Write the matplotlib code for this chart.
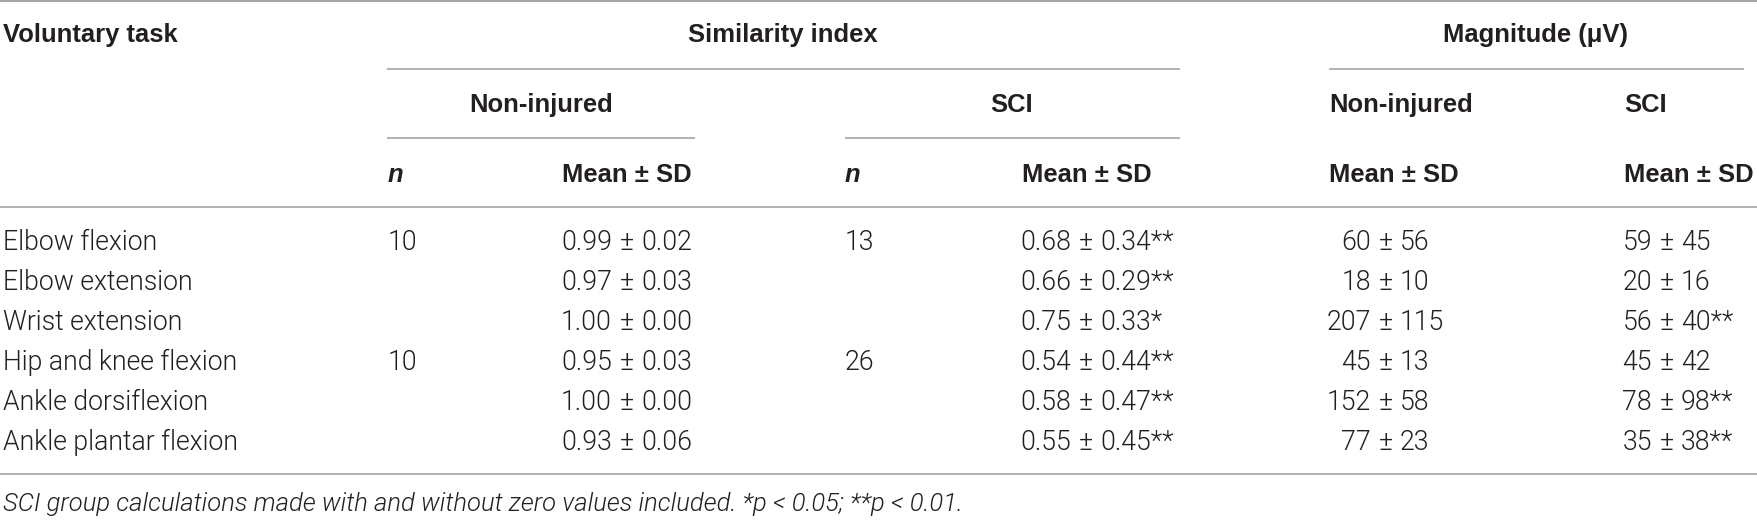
import matplotlib
matplotlib.use("Agg")
import matplotlib.pyplot as plt
from matplotlib import font_manager as fm

# ---------------- data ----------------
tasks = ["Elbow flexion", "Elbow extension", "Wrist extension",
         "Hip and knee flexion", "Ankle dorsiflexion", "Ankle plantar flexion"]
ni_n = ["10", "", "", "10", "", ""]
ni_sim_mean = ["0.99", "0.97", "1.00", "0.95", "1.00", "0.93"]
ni_sim_sd = ["0.02", "0.03", "0.00", "0.03", "0.00", "0.06"]
sci_n = ["13", "", "", "26", "", ""]
sci_sim_mean = ["0.68", "0.66", "0.75", "0.54", "0.58", "0.55"]
sci_sim_sd = ["0.34", "0.29", "0.33", "0.44", "0.47", "0.45"]
sci_sim_sig = ["**", "**", "*", "**", "**", "**"]
ni_mag_mean = ["60", "18", "207", "45", "152", "77"]
ni_mag_sd = ["56", "10", "115", "13", "58", "23"]
sci_mag_mean = ["59", "20", "56", "45", "78", "35"]
sci_mag_sd = ["45", "16", "40", "42", "98", "38"]
sci_mag_sig = ["", "", "**", "", "**", "**"]

header_task = "Voluntary task"
header_sim = "Similarity index"
header_mag = "Magnitude (\u03bcV)"
group_ni = "Non-injured"
group_sci = "SCI"
col_n = "n"
col_mean = "Mean \u00b1 SD"
footnote = ("SCI group calculations made with and without zero values included. "
            "*p < 0.05; **p < 0.01.")

# ---------------- fonts ----------------
avail = {}
for f in fm.fontManager.ttflist:
    avail.setdefault(f.name, set()).add((f.weight, f.style))

def has(name, weight=None):
    if name not in avail:
        return False
    if weight is None:
        return True
    return any(abs((w if isinstance(w, int) else 400) - weight) <= 50 for w, s in avail[name])

if has("Roboto", 300):
    body_fam, body_w = "Roboto", 300
else:
    body_fam, body_w = "Liberation Sans", "normal"
bold_fam = "Liberation Sans" if has("Liberation Sans") else "DejaVu Sans"

TXT = "#231f20"
LINE = "#9d9d9d"

W, H = 1758, 522
fig = plt.figure(figsize=(W / 100, H / 100), dpi=100)
ax = fig.add_axes([0, 0, 1, 1])
ax.set_xlim(0, W)
ax.set_ylim(H, 0)
ax.axis("off")
fig.canvas.draw()
renderer = fig.canvas.get_renderer()

def fit(text, target_px, **kw):
    t = ax.text(0, 0, text, fontsize=10, **kw)
    w = t.get_window_extent(renderer).width
    t.remove()
    return 10 * target_px / w

body_kw = dict(family=body_fam, fontweight=body_w)
bold_kw = dict(family=bold_fam, fontweight="bold")
ital_kw = dict(family=body_fam, fontweight=body_w, style="italic")

fs_body = fit("Elbow flexion", 154, **body_kw)
fs_bold = fit("Voluntary task", 175, **bold_kw)
fs_foot = fit(footnote, 964, **ital_kw)

def put(x, yc, s, fs, ha="left", **kw):
    px = fs * 100 / 72
    ax.text(x, yc + 0.36 * px, s, fontsize=fs, ha=ha, va="baseline", color=TXT, **kw)

# ---------------- rules ----------------
ax.hlines(1, 0, W, color=LINE, lw=1.3)
ax.hlines(69, 387, 1180, color=LINE, lw=1.1)
ax.hlines(69, 1329, 1744, color=LINE, lw=1.1)
ax.hlines(138, 387, 695, color=LINE, lw=1.1)
ax.hlines(138, 845, 1180, color=LINE, lw=1.1)
ax.hlines(207, 0, W, color=LINE, lw=1.1)
ax.hlines(474, 0, W, color=LINE, lw=1.1)

# ---------------- headers ----------------
put(3, 33, header_task, fs_bold, **bold_kw)
put(783, 33, header_sim, fs_bold, ha="center", **bold_kw)
put(1536, 33, header_mag, fs_bold, ha="center", **bold_kw)
put(541, 103, group_ni, fs_bold, ha="center", **bold_kw)
put(1012, 103, group_sci, fs_bold, ha="center", **bold_kw)
put(1329, 103, group_ni, fs_bold, **bold_kw)
put(1624, 103, group_sci, fs_bold, **bold_kw)
for xn in (388, 845):
    put(xn, 173, col_n, fs_bold, family=bold_fam, fontweight="bold", style="italic")
for xm in (562, 1022, 1329, 1624):
    put(xm, 173, col_mean, fs_bold, **bold_kw)

# ---------------- body ----------------
row_y0, row_dy = 240, 40
pm_d = 14.5

def pm_cell(xpm, yc, left, right):
    put(xpm - pm_d, yc, left, fs_body, ha="right", **body_kw)
    put(xpm, yc, "\u00b1", fs_body, ha="center", **body_kw)
    put(xpm + pm_d, yc, right, fs_body, ha="left", **body_kw)

for i, task in enumerate(tasks):
    yc = row_y0 + i * row_dy
    put(3, yc, task, fs_body, **body_kw)
    if ni_n[i]:
        put(388, yc, ni_n[i], fs_body, **body_kw)
    if sci_n[i]:
        put(845, yc, sci_n[i], fs_body, **body_kw)
    pm_cell(626.5, yc, ni_sim_mean[i], ni_sim_sd[i])
    pm_cell(1085.5, yc, sci_sim_mean[i], sci_sim_sd[i] + sci_sim_sig[i])
    pm_cell(1385.5, yc, ni_mag_mean[i], ni_mag_sd[i])
    pm_cell(1666.5, yc, sci_mag_mean[i], sci_mag_sd[i] + sci_mag_sig[i])

# ---------------- footnote ----------------
put(3, 502, footnote, fs_foot, **ital_kw)

fig.savefig("out.png", dpi=100)
